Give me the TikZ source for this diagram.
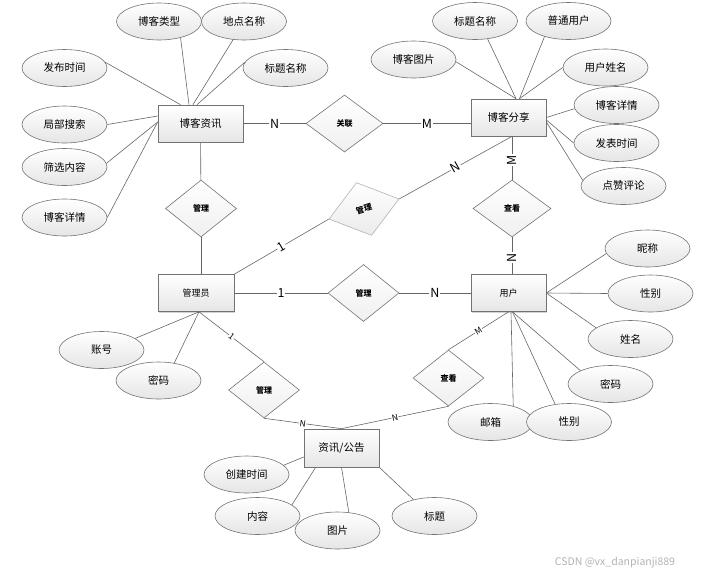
\documentclass[tikz,border=0pt]{standalone}
\usepackage{fontspec}
\setmainfont{Noto Sans CJK SC}
\usetikzlibrary{shapes.geometric,shadows}

\begin{document}
\begin{tikzpicture}
  [
    x=1pt, y=-1pt,
    conn/.style={draw=black!60, line width=.6pt},
    entity/.style={rectangle, draw=black!55, line width=.7pt, minimum width=76pt,
      minimum height=37pt, inner sep=0pt, top color=white, bottom color=black!10,
      drop shadow={shadow xshift=1.2pt, shadow yshift=-1.2pt, opacity=.35},
      font=\fontsize{10.5}{12}\selectfont},
    attr/.style={ellipse, draw=black!55, line width=.6pt, minimum width=85pt,
      minimum height=37pt, inner sep=0pt, top color=white, bottom color=black!10,
      font=\fontsize{10.5}{12}\selectfont},
    rel/.style={diamond, draw=black!55, line width=.6pt, minimum width=71pt,
      minimum height=57pt, inner sep=0pt, top color=white, bottom color=black!6,
      font=\bfseries\fontsize{8}{9}\selectfont},
    card/.style={fill=white, inner sep=1pt, font=\fontsize{12.5}{14}\selectfont},
    smallcard/.style={fill=white, inner sep=.5pt, font=\fontsize{8.5}{9}\selectfont},
  ]

  \useasboundingbox (0,0) rectangle (702,574);

  % entities
  \node [entity, minimum width=85pt] (zx) at (200.5,123.5) {博客资讯};
  \node [entity, minimum width=75pt] (fx) at (508.5,117.5) {博客分享};
  \node [entity, font=\fontsize{9}{11}\selectfont] (gly) at (196,293) {管理员};
  \node [entity, minimum width=75pt, font=\fontsize{9}{11}\selectfont] (yh) at (508.5,293) {用户};
  \node [entity, minimum width=75pt, minimum height=38pt] (gg) at (341.5,448) {资讯/公告};

  % relations
  \node [rel, minimum width=77pt] (gl) at (344.5,123.5) {关联};
  \node [rel] (glZx) at (201,208.5) {管理};
  \node [rel, minimum width=78pt] (ckFx) at (512,208.5) {查看};
  \node [rel] (glYh) at (363.5,293) {管理};
  \node [rel, minimum height=56pt] (ckGg) at (448.5,378) {查看};
  \node [rel, minimum height=56pt] (glGg) at (264,390) {管理};
  \node [rel, draw=black!30, minimum width=73pt, minimum height=55pt, rotate=16,
    bottom color=black!8] (glFx) at (364,209) {管理};

  % attributes
  \foreach \n/\t/\x/\y in {zxLx/博客类型/159/21.5, zxDd/地点名称/244/21.5,
      zxFb/发布时间/64.5/68, zxBt/标题名称/285.5/68, zxJb/局部搜索/64.5/124.5,
      zxSx/筛选内容/64.5/167, zxXq/博客详情/64.5/217.5,
      fxBt/标题名称/475/21, fxPt/普通用户/568.5/21, fxTp/博客图片/413.5/59.5,
      fxXm/用户姓名/605.5/67.5, fxXq/博客详情/616.5/105, fxSj/发表时间/616.5/143,
      fxPl/点赞评论/623.5/186,
      yhNc/昵称/647.5/248.5, yhXb/性别/650.5/293.5, yhXm/姓名/630.5/339,
      yhMm/密码/610.5/384, yhYx/邮箱/490.5/422, yhXb2/性别/569/422,
      glyZh/账号/101.5/350, glyMm/密码/158.5/380.5,
      ggSj/创建时间/246.5/474.5, ggNr/内容/257.5/516, ggTp/图片/337.5/530.5,
      ggBt/标题/434.5/516}
    \node [attr] (\n) at (\x,\y) {\t};

  % ends on the entities
  \coordinate (zxT1) at ([xshift=-20pt]zx.north);
  \coordinate (zxT2) at ([xshift=-11.5pt]zx.north);
  \coordinate (zxT3) at ([xshift=-7.5pt]zx.north);
  \coordinate (zxT4) at ([xshift=-3.5pt]zx.north);
  \coordinate (zxL1) at ([yshift=7.5pt]zx.west);
  \coordinate (zxL2) at ([yshift=1.5pt]zx.west);
  \coordinate (fxT1) at ([xshift=7.5pt]fx.north);
  \coordinate (fxT2) at ([xshift=11pt]fx.north);
  \coordinate (fxR1) at ([yshift=-2.5pt]fx.east);
  \coordinate (fxR2) at ([yshift=-4.5pt]fx.east);
  \coordinate (fxS) at (ckFx |- fx.south);
  \coordinate (yhB1) at ([xshift=2.5pt]yh.south);
  \coordinate (yhB2) at ([xshift=4pt]yh.south);
  \coordinate (glyB) at ([xshift=3pt]gly.south);
  \coordinate (ggL) at ([yshift=-9pt]gg.west);
  \coordinate (ggB) at ([xshift=12pt]gg.south west);

  % attribute links
  \foreach \a/\b in {zxLx.-37/zxT2, zxDd.-121/zxT3, zxBt.172/zxT4, zxFb.8/zxT1,
      zxJb.east/zxL1, zxSx.5/zxL2, zxXq.east/zxL2,
      fxBt.-55/fxT1, fxPt.-147/fxT2, fxTp.-3/fxT1, fxXm.west/fxT2,
      fxXq.185/fx.east, fxSj.west/fxR1, fxPl.172/fxR2,
      yhNc.187/yh.east, yhXb.west/yh.east, yhXm.162/yh.east,
      yhMm.156/yhB2, yhYx.35/yhB1, yhXb2.128/yhB2,
      glyZh.19/glyB, glyMm.48/glyB,
      ggSj.14/ggL, ggNr.18/ggB, ggTp.58/gg.south, ggBt.142/gg.south east}
    \draw [conn] (\a) -- (\b);

  % relation links
  \draw [conn] (zx) -- node [card] {N} (gl);
  \draw [conn] (gl) -- node [card] {M} (gl -| fx.west);
  \draw [conn] (zx) -- (glZx);
  \draw [conn] (glZx) -- (glZx |- gly.north);
  \draw [conn] (fxS) -- node [card, rotate=90, pos=.55] {M} (ckFx);
  \draw [conn] (ckFx) -- node [card, rotate=90, pos=.55] {N} (ckFx |- yh.north);
  \draw [conn] (gly) -- node [card] {1} (glYh);
  \draw [conn] (glYh) -- node [card] {N} (yh);
  \draw [conn] (gly.north east) -- node [card, sloped] {1} (glFx.west);
  \draw [conn] (glFx.east) -- node [card, sloped] {N} (fxS);
  \draw [conn] (glyB) -- node [smallcard, sloped] {1} (glGg.north);
  \draw [conn] (glGg.south) -- node [smallcard, sloped] {N} (gg.north);
  \draw [conn] (yh.south) -- node [smallcard, sloped] {M} (ckGg.north);
  \draw [conn] (ckGg.south) -- node [smallcard, sloped] {N} (gg.north);

  \node [text=black!30, font=\fontsize{10.5}{12}\selectfont] (wm) at (615,563)
    {CSDN @vx\_danpianji889};
\end{tikzpicture}
\end{document}
